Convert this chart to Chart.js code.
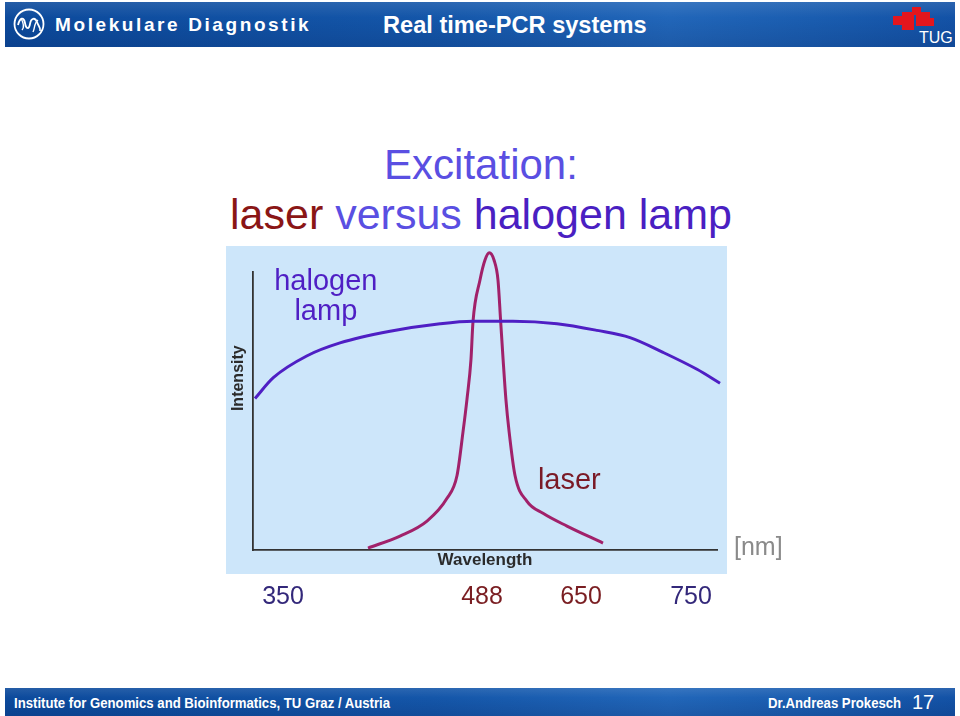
<!DOCTYPE html>
<html>
<head>
<meta charset="utf-8">
<script src="https://cdn.jsdelivr.net/npm/chart.js@4.4.1/dist/chart.umd.min.js"></script>
<style>
  body { margin: 0; width: 960px; height: 716px; background: #fff; position: relative; overflow: hidden; font-family: "Liberation Sans", Arial, sans-serif; }
  .bar { position: absolute; left: 5px; width: 950px; background: linear-gradient(90deg, #0c4a9c 0%, #1456a9 45%, #2166b9 70%, #1a5db0 85%, #1352a6 100%); }
  .bar::after { content: ''; position: absolute; inset: 0; background: linear-gradient(180deg, rgba(255,255,255,0.10) 0%, rgba(255,255,255,0) 35%, rgba(0,0,40,0.12) 100%); }
  #head { top: 2px; height: 45px; }
  #foot { top: 688px; height: 28px; }
  .txt { position: absolute; white-space: nowrap; line-height: 1; }
  .narrow { transform: scaleX(0.94); transform-origin: 0 0; font-size: 14px; font-weight: bold; color: #fff; }
  #panel { position: absolute; left: 226px; top: 246px; width: 501px; height: 328px; background: #cde6fa; }
  #chartBox { position: absolute; left: 200px; top: 240px; }
</style>
</head>
<body>
<div class="bar" id="head"></div>
<svg style="position:absolute;left:13px;top:8px" width="32" height="32" viewBox="0 0 32 32">
  <circle cx="16" cy="16" r="14.5" fill="none" stroke="#fff" stroke-width="1.8"/>
  <path d="M5 17 C7 9, 11 9, 12 15 C13 21, 16 22, 17 16 C18 10, 22 9, 24 14 C25 18, 28 19, 27 23" fill="none" stroke="#fff" stroke-width="1.8"/>
  <path d="M8 10 C10 14, 12 19, 9 22 M20 24 C22 20, 21 15, 25 12" fill="none" stroke="#fff" stroke-width="1.4"/>
</svg>
<div class="txt" style="left:55px;top:15px;font-size:19px;font-weight:bold;color:#fff;letter-spacing:2.6px">Molekulare Diagnostik</div>
<div class="txt" style="left:383px;top:14px;font-size:23.6px;font-weight:bold;color:#fff">Real time-PCR systems</div>
<svg style="position:absolute;left:890px;top:4px" width="70" height="44">
  <rect x="3" y="12" width="12" height="9" fill="#e3161d"/>
  <rect x="12" y="8" width="12" height="18" fill="#e3161d"/>
  <rect x="22" y="3" width="9" height="8" fill="#e3161d"/>
  <rect x="26" y="8" width="14" height="14" fill="#e3161d"/>
  <rect x="36" y="14" width="8" height="8" fill="#e3161d"/>
  <text x="29" y="39" font-family="Liberation Sans, Arial" font-size="16" fill="#fff">TUG</text>
</svg>

<div class="txt" style="left:0;width:962px;text-align:center;top:144px;font-size:42px;color:#5a4fe2">Excitation:</div>
<div class="txt" style="left:0;width:962px;text-align:center;top:193px;font-size:43px"><span style="color:#8a1616">laser</span> <span style="color:#5a4fe2">versus</span> <span style="color:#4a1fc2">halogen lamp</span></div>

<div id="panel"></div>
<div id="chartBox"><canvas id="c" width="600" height="380"></canvas></div>

<div class="bar" id="foot"></div>
<div class="txt narrow" style="left:14px;top:696px">Institute for Genomics and Bioinformatics, TU Graz / Austria</div>
<div class="txt narrow" style="left:768px;top:696px">Dr.Andreas Prokesch</div>
<div class="txt" style="left:912px;top:692px;font-size:20px;color:#fff">17</div>

<script>
// schematic wavelength position (0-100 along the axis) and relative intensity (0-100)
const halogenX = [0.43, 4.38, 11.57, 18.75, 29.53, 40.3, 47.41, 56.03, 65.52, 74.14, 81.25, 88.36, 95.69, 100.65];
const halogenY = [54.5, 62.0, 69.8, 74.5, 78.7, 81.4, 82.3, 82.3, 81.4, 79.0, 76.4, 71.1, 65.0, 60.0];
const laserX = [24.78, 31.68, 37.5, 41.81, 43.97, 45.26, 46.12, 46.98, 47.41, 48.92, 50.0, 50.93, 51.94, 52.8, 53.38, 53.9, 54.5, 55.2, 56.47, 59.05, 62.5, 67.67, 75.43];
const laserY = [0.7, 5.0, 10.4, 18.6, 26.8, 42.5, 54.3, 68.6, 82.1, 97.1, 104.3, 106.9, 104.3, 97.1, 82.1, 68.6, 54.3, 42.5, 26.8, 17.5, 13.2, 8.6, 2.5];
const tickPos = [6.47, 49.35, 70.69, 94.4];
const tickLabels = ['350', '488', '650', '750'];

const FONT = '"Liberation Sans", Arial, sans-serif';

const notes = {
  id: 'notes',
  afterDraw(chart) {
    const { ctx, scales: { x, y } } = chart;
    ctx.save();
    ctx.textBaseline = 'alphabetic';
    ctx.font = '29px ' + FONT;
    ctx.fillStyle = '#4f1fc4';
    ctx.textAlign = 'center';
    ctx.fillText('halogen', x.getPixelForValue(15.7), y.getPixelForValue(93.6));
    ctx.fillText('lamp', x.getPixelForValue(15.7), y.getPixelForValue(82.9));
    ctx.fillStyle = '#7a1a26';
    ctx.textAlign = 'left';
    ctx.fillText('laser', x.getPixelForValue(61.4), y.getPixelForValue(22.1));
    ctx.font = '25px ' + FONT;
    ctx.fillStyle = '#8a8a8a';
    ctx.textBaseline = 'middle';
    ctx.fillText('[nm]', x.right + 17, y.bottom - 2);
    ctx.translate(x.left - 14, y.getPixelForValue(61.8));
    ctx.rotate(-Math.PI / 2);
    ctx.font = 'bold 16px ' + FONT;
    ctx.fillStyle = '#2b2b2b';
    ctx.textAlign = 'center';
    ctx.fillText('Intensity', 0, 0);
    ctx.restore();
  }
};

const ctx = document.getElementById('c').getContext('2d');
new Chart(ctx, {
  type: 'line',
  data: {
    datasets: [
      {
        label: 'halogen lamp',
        data: halogenX.map((v, i) => ({ x: v, y: halogenY[i] })),
        borderColor: '#4f1fc4',
        borderWidth: 3,
        pointRadius: 0,
        cubicInterpolationMode: 'monotone',
        clip: false,
      },
      {
        label: 'laser',
        data: laserX.map((v, i) => ({ x: v, y: laserY[i] })),
        borderColor: '#a1216a',
        borderWidth: 3,
        pointRadius: 0,
        cubicInterpolationMode: 'monotone',
        clip: false,
      },
    ],
  },
  options: {
    responsive: false,
    animation: false,
    devicePixelRatio: 1,
    layout: { padding: { left: 0, top: 32, right: 83, bottom: 8 } },
    plugins: { legend: { display: false }, tooltip: { enabled: false } },
    scales: {
      x: {
        type: 'linear', min: 0, max: 100, position: 'bottom', weight: 0,
        grid: { display: false, drawTicks: false },
        border: { display: true, color: '#333', width: 1.8 },
        ticks: { display: false },
        title: { display: true, text: 'Wavelength', color: '#2b2b2b', font: { family: FONT, size: 17, weight: 'bold' }, padding: { top: 0, bottom: 1 } },
        afterFit: (s) => { s.height = 22; },
      },
      x2: {
        type: 'linear', min: 0, max: 100, position: 'bottom', weight: 1,
        grid: { display: false, drawTicks: false },
        border: { display: false },
        afterBuildTicks: (s) => { s.ticks = tickPos.map((v) => ({ value: v })); },
        ticks: {
          autoSkip: false, maxRotation: 0, padding: 10,
          font: { family: FONT, size: 25 },
          color: (c) => (c.index === 1 || c.index === 2 ? '#7a1e22' : '#33287a'),
          callback: (v, i) => tickLabels[i],
        },
        afterFit: (s) => { s.height = 40; },
      },
      y: {
        type: 'linear', min: 0, max: 100,
        grid: { display: false, drawTicks: false },
        border: { display: true, color: '#333', width: 1.8 },
        ticks: { display: false },
        afterFit: (s) => { s.width = 53; },
      },
    },
  },
  plugins: [notes],
});
</script>
</body>
</html>
